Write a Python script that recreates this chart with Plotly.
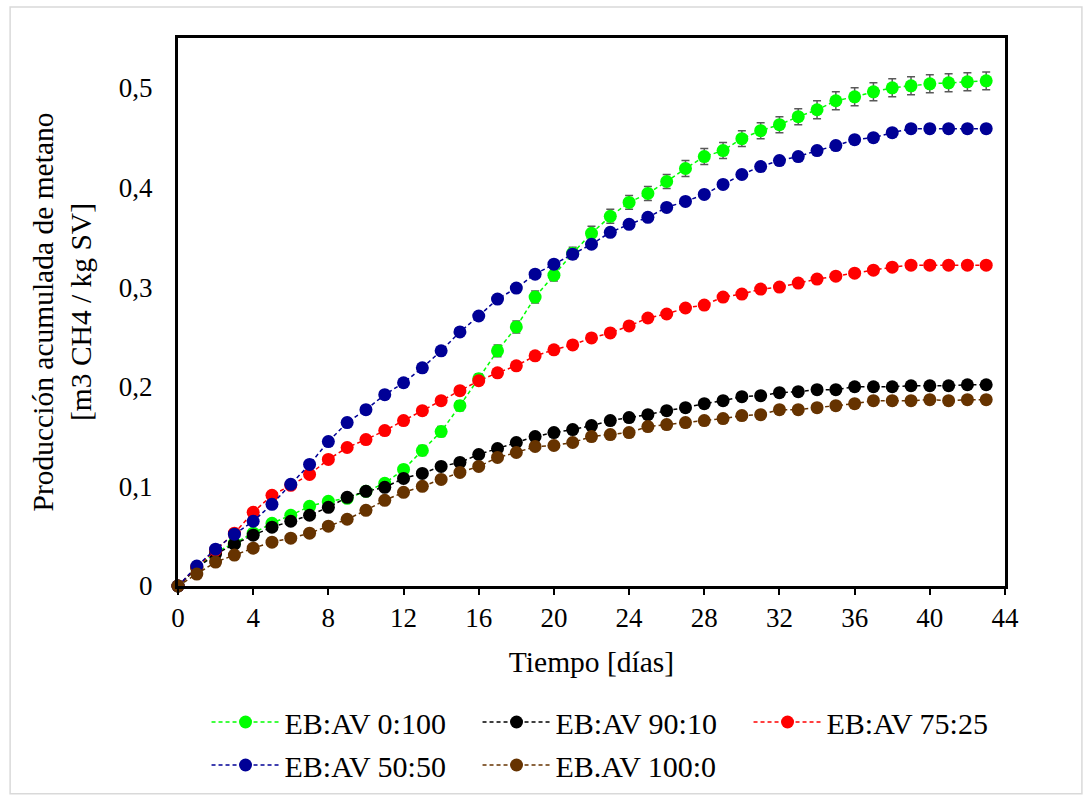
import plotly.graph_objects as go

days = list(range(44))

names = ["EB:AV 0:100", "EB:AV 90:10", "EB:AV 75:25", "EB:AV 50:50", "EB.AV 100:0"]
colors = ["#00FF00", "#000000", "#FF0000", "#000096", "#663300"]
legend_ids = ["legend", "legend", "legend", "legend2", "legend2"]

eb_av_0_100 = [0, 0.018, 0.034, 0.043, 0.053, 0.063, 0.071, 0.080, 0.085, 0.088, 0.095, 0.103,
               0.117, 0.136, 0.155, 0.181, 0.208, 0.236, 0.260, 0.290, 0.312, 0.334, 0.354, 0.371,
               0.385, 0.394, 0.406, 0.419, 0.431, 0.437, 0.449, 0.457, 0.463, 0.471, 0.478, 0.487,
               0.491, 0.496, 0.500, 0.502, 0.504, 0.505, 0.506, 0.507]
eb_av_90_10 = [0, 0.018, 0.032, 0.042, 0.051, 0.059, 0.065, 0.071, 0.079, 0.089, 0.095, 0.099,
               0.108, 0.113, 0.120, 0.124, 0.132, 0.138, 0.144, 0.150, 0.154, 0.157, 0.161, 0.166,
               0.169, 0.172, 0.176, 0.179, 0.183, 0.186, 0.190, 0.191, 0.194, 0.195, 0.197, 0.197,
               0.200, 0.200, 0.200, 0.201, 0.201, 0.201, 0.202, 0.202]
eb_av_75_25 = [0, 0.019, 0.036, 0.053, 0.074, 0.091, 0.101, 0.112, 0.127, 0.139, 0.147, 0.156,
               0.166, 0.176, 0.186, 0.196, 0.206, 0.214, 0.221, 0.231, 0.237, 0.242, 0.249, 0.254,
               0.261, 0.269, 0.273, 0.279, 0.282, 0.290, 0.293, 0.298, 0.300, 0.304, 0.308, 0.311,
               0.314, 0.317, 0.320, 0.322, 0.322, 0.322, 0.322, 0.322]
eb_av_50_50 = [0, 0.020, 0.037, 0.052, 0.065, 0.082, 0.102, 0.122, 0.145, 0.164, 0.177, 0.192,
               0.204, 0.219, 0.236, 0.255, 0.271, 0.288, 0.299, 0.313, 0.323, 0.333, 0.343, 0.355,
               0.363, 0.370, 0.380, 0.386, 0.393, 0.403, 0.413, 0.421, 0.427, 0.431, 0.437, 0.442,
               0.448, 0.450, 0.455, 0.459, 0.459, 0.459, 0.459, 0.459]
eb_av_100_0 = [0, 0.012, 0.024, 0.031, 0.038, 0.044, 0.048, 0.053, 0.060, 0.067, 0.076, 0.086,
               0.094, 0.100, 0.107, 0.114, 0.120, 0.129, 0.134, 0.140, 0.141, 0.144, 0.150, 0.152,
               0.154, 0.160, 0.162, 0.164, 0.166, 0.168, 0.171, 0.172, 0.177, 0.177, 0.179, 0.181,
               0.183, 0.186, 0.186, 0.186, 0.187, 0.186, 0.187, 0.187]

err_0_100 = [0, 0.001, 0.001, 0.002, 0.002, 0.002, 0.003, 0.003, 0.003, 0.003, 0.004, 0.004,
             0.004, 0.005, 0.005, 0.005, 0.005, 0.006, 0.006, 0.006, 0.006, 0.006, 0.007, 0.007,
             0.007, 0.007, 0.007, 0.008, 0.008, 0.008, 0.008, 0.008, 0.008, 0.008, 0.009, 0.009,
             0.009, 0.009, 0.009, 0.009, 0.009, 0.009, 0.009, 0.009]
err_90_10 = [0.002] * 44
err_75_25 = [0.003] * 44
err_50_50 = [0.004] * 44
err_100_0 = [0.002] * 44

series = [eb_av_0_100, eb_av_90_10, eb_av_75_25, eb_av_50_50, eb_av_100_0]
errors = [err_0_100, err_90_10, err_75_25, err_50_50, err_100_0]

FONT = "Liberation Serif"

fig = go.Figure()
for name, col, ys, er, lg in zip(names, colors, series, errors, legend_ids):
    fig.add_trace(go.Scatter(
        x=days, y=ys, name=name, mode="lines+markers", legend=lg,
        line=dict(color=col, width=1.5, dash="4px,3px"),
        marker=dict(color=col, size=13, symbol="circle"),
        error_y=dict(type="data", array=er, visible=True, color="#595959",
                     thickness=1.5, width=4),
        cliponaxis=False,
    ))

legend_common = dict(
    orientation="h", x=0.0345, xanchor="left", yanchor="middle",
    entrywidth=188, entrywidthmode="pixels", itemwidth=68,
    font=dict(family=FONT, size=30, color="black"),
    bgcolor="rgba(0,0,0,0)",
)

tick_overlay = dict(showgrid=False, zeroline=False, showline=False, showticklabels=False,
                    ticklen=6, tickwidth=2, tickcolor="black")

fig.update_layout(
    width=1089, height=802,
    margin=dict(l=178, r=84, t=38, b=215),
    paper_bgcolor="white", plot_bgcolor="white",
    separators=", ",
    font=dict(family=FONT, size=27, color="black"),
    showlegend=True,
    legend=dict(legend_common, y=-0.2459),
    legend2=dict(legend_common, y=-0.3242),
    xaxis=dict(
        range=[0, 44], dtick=4, tick0=0, showgrid=False, zeroline=False,
        showline=True, linecolor="black", linewidth=3, mirror=True,
        ticks="outside", ticklen=6, tickwidth=2, tickcolor="black",
        tickfont=dict(family=FONT, size=27),
        title=dict(text="Tiempo [días]", font=dict(family=FONT, size=29.5), standoff=19),
    ),
    yaxis=dict(
        range=[0, 0.55], dtick=0.1, tick0=0, showgrid=False, zeroline=False,
        showline=True, linecolor="black", linewidth=3, mirror=True,
        ticks="outside", ticklen=17, tickwidth=2, tickcolor="rgba(0,0,0,0)",
        tickformat=".1~f",
        tickfont=dict(family=FONT, size=27),
        title=dict(text="Producción acumulada de metano<br>[m3 CH4 / kg SV]",
                   font=dict(family=FONT, size=29.5), standoff=19),
    ),
    xaxis2=dict(range=[0, 44], dtick=4, tick0=0, overlaying="x", anchor="y2",
                ticks="inside", **tick_overlay),
    yaxis2=dict(range=[0, 0.55], dtick=0.1, tick0=0, overlaying="y", anchor="x2",
                ticks="inside", **tick_overlay),
    yaxis3=dict(range=[0, 0.55], dtick=0.1, tick0=0, overlaying="y", anchor="x",
                ticks="outside", **tick_overlay),
    shapes=[dict(type="rect", xref="paper", yref="paper",
                 x0=-0.203, x1=1.093, y0=-0.379, y1=1.0565,
                 line=dict(color="#d9d9d9", width=1.5), layer="below")],
)

fig.write_html("out.html")
